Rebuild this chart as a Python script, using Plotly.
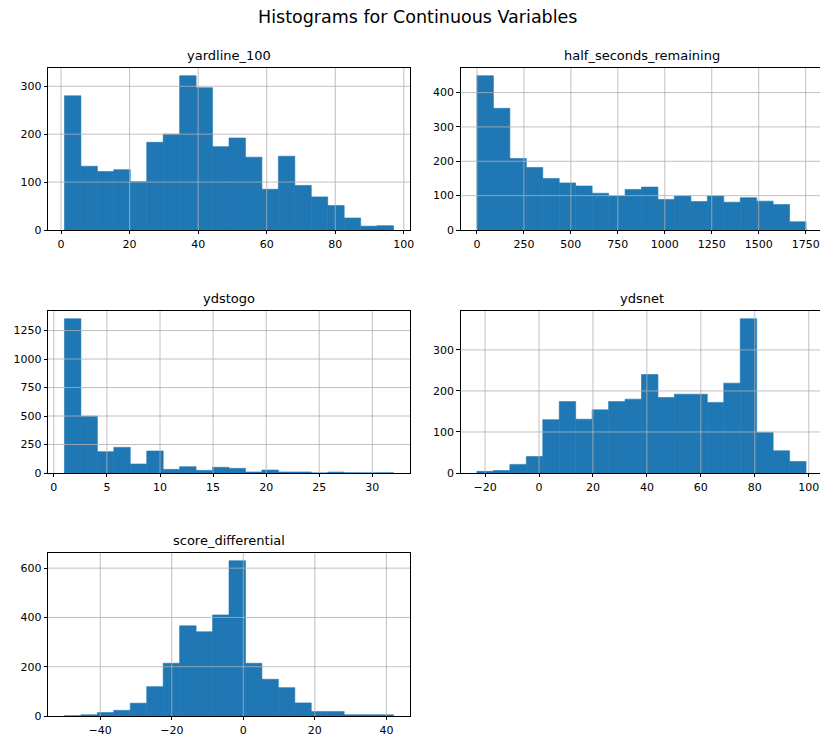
import numpy as np
import plotly.graph_objects as go

# ---------------- data ----------------
fig_title = "Histograms for Continuous Variables"
var_names = ["yardline_100", "half_seconds_remaining", "ydstogo", "ydsnet", "score_differential"]

# data min / max (20 equal bins each) and bin counts
yardline_range = [1, 97]
yardline_counts = [280, 133, 122, 126, 101, 183, 200, 322, 297, 174,
                   192, 152, 85, 154, 93, 69, 51, 25, 8, 9]

half_sec_range = [0, 1752]
half_sec_counts = [449, 354, 208, 182, 150, 137, 128, 107, 99, 118,
                   125, 89, 99, 83, 99, 81, 94, 84, 74, 24]

ydstogo_range = [1, 32]
ydstogo_counts = [1354, 499, 187, 225, 79, 193, 32, 55, 23, 50,
                  41, 9, 26, 9, 9, 0, 8, 2, 1, 2]

ydsnet_range = [-23, 99]
ydsnet_counts = [4, 6, 21, 40, 130, 174, 131, 154, 174, 180,
                 240, 184, 192, 192, 172, 219, 376, 99, 54, 28]

score_diff_range = [-50, 42]
score_diff_counts = [1, 5, 14, 23, 52, 119, 214, 366, 342, 410,
                     630, 214, 149, 115, 53, 18, 18, 5, 5, 5]

# tick labels
yardline_xticks = [0, 20, 40, 60, 80, 100]
yardline_yticks = [0, 100, 200, 300]
half_sec_xticks = [0, 250, 500, 750, 1000, 1250, 1500, 1750]
half_sec_yticks = [0, 100, 200, 300, 400]
ydstogo_xticks = [0, 5, 10, 15, 20, 25, 30]
ydstogo_yticks = [0, 250, 500, 750, 1000, 1250]
ydsnet_xticks = [-20, 0, 20, 40, 60, 80, 100]
ydsnet_yticks = [0, 100, 200, 300]
score_diff_xticks = [-40, -20, 0, 20, 40]
score_diff_yticks = [0, 200, 400, 600]

series = [
    (yardline_range, yardline_counts, yardline_xticks, yardline_yticks),
    (half_sec_range, half_sec_counts, half_sec_xticks, half_sec_yticks),
    (ydstogo_range, ydstogo_counts, ydstogo_xticks, ydstogo_yticks),
    (ydsnet_range, ydsnet_counts, ydsnet_xticks, ydsnet_yticks),
    (score_diff_range, score_diff_counts, score_diff_xticks, score_diff_yticks),
]

# ---------------- layout ----------------
W, H = 820, 736
col_px = [(48, 410), (460.5, 822.5)]   # on-screen pixel positions (right column runs past the edge)
row_px = [(68, 230), (311, 473), (553, 716)]
BLUE = "#1f77b4"
GRID = "#b0b0b0"
FONT = "DejaVu Sans"

fig = go.Figure()
layout = dict(
    width=W, height=H,
    margin=dict(l=0, r=0, t=0, b=0, autoexpand=False),
    paper_bgcolor="white", plot_bgcolor="white",
    showlegend=False,
    font=dict(family=FONT, size=11, color="black"),
    annotations=[], shapes=[],
)

for i, (rng, counts, xt, yt) in enumerate(series):
    r, c = divmod(i, 2)
    n = len(counts)
    edges = np.linspace(rng[0], rng[1], n + 1)
    width = edges[1] - edges[0]
    centers = (edges[:-1] + edges[1:]) / 2
    span = rng[1] - rng[0]
    xr = [rng[0] - 0.05 * span, rng[1] + 0.05 * span]
    yr = [0, max(counts) * 1.05]

    x0, x1 = col_px[c]
    y0, y1 = row_px[r]
    # clip the axes at the figure edge, keeping the same data scale
    x1_vis = min(x1, W)
    xr_vis = [xr[0], xr[0] + (xr[1] - xr[0]) * (x1_vis - x0) / (x1 - x0)]
    clipped = x1_vis < x1

    xa = "x" if i == 0 else f"x{i+1}"
    ya = "y" if i == 0 else f"y{i+1}"
    xkey = "xaxis" if i == 0 else f"xaxis{i+1}"
    ykey = "yaxis" if i == 0 else f"yaxis{i+1}"

    fig.add_trace(go.Bar(
        x=centers, y=counts, width=width,
        marker=dict(color=BLUE, line=dict(width=0.6, color=BLUE)),
        xaxis=xa, yaxis=ya,
    ))

    common = dict(
        showline=True, linecolor="black", linewidth=0.8,
        ticks="outside", ticklen=3.5, tickwidth=0.8, tickcolor="black",
        showgrid=False, zeroline=False, layer="above traces",
        tickfont=dict(family=FONT, size=11, color="black"),
        fixedrange=True, automargin=False,
    )
    layout[xkey] = dict(common, mirror=True, domain=[x0 / W, x1_vis / W], range=xr_vis,
                        tickmode="array", tickvals=xt, anchor=ya)
    layout[ykey] = dict(common, mirror=not clipped, domain=[1 - y1 / H, 1 - y0 / H], range=yr,
                        tickmode="array", tickvals=yt, anchor=xa)

    # gridlines drawn above the bars (as in matplotlib)
    for v in xt:
        if xr_vis[0] < v < xr_vis[1]:
            layout["shapes"].append(dict(
                type="line", xref=xa, yref=f"{ya} domain",
                x0=v, x1=v, y0=0, y1=1, layer="above",
                line=dict(color=GRID, width=0.8)))
    for v in yt:
        if yr[0] < v < yr[1]:
            layout["shapes"].append(dict(
                type="line", xref=f"{xa} domain", yref=ya,
                x0=0, x1=1, y0=v, y1=v, layer="above",
                line=dict(color=GRID, width=0.8)))

    layout["annotations"].append(dict(
        text=var_names[i], xref="paper", yref=f"{ya} domain",
        x=((x0 + x1) / 2) / W, y=1, xanchor="center", yanchor="bottom", yshift=3,
        showarrow=False, font=dict(family=FONT, size=13, color="black")))

layout["annotations"].append(dict(
    text=fig_title, xref="paper", yref="paper", x=417 / W, y=1,
    xanchor="center", yanchor="top", yshift=-5, showarrow=False,
    font=dict(family=FONT, size=17.5, color="black")))

fig.update_layout(**layout)
fig.write_html(
    "out.html",
    config={"displayModeBar": False},
    post_script="document.body.style.margin='0px';"
                "document.documentElement.style.overflow='hidden';",
)
